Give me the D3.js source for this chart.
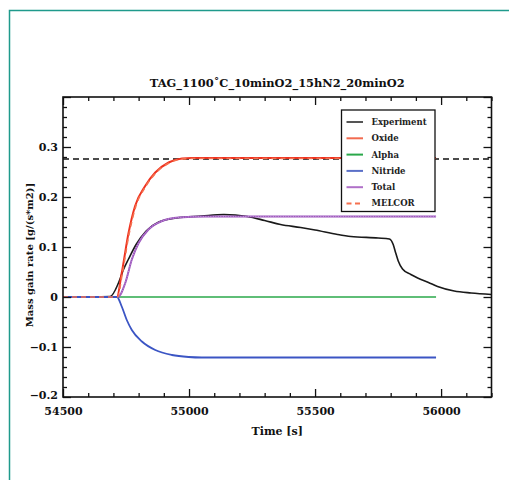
<!DOCTYPE html>
<html><head><meta charset="utf-8">
<script src="https://cdn.jsdelivr.net/npm/d3@7"></script>
<style>body{margin:0;background:#fff}svg{display:block}</style>
</head><body>
<script>
// ---- data ----
const title = "TAG_1100˚C_10minO2_15hN2_20minO2";
const xTicks = [54500, 55000, 55500, 56000];
const yTicks = [-0.2, -0.1, 0, 0.1, 0.2, 0.3];

const expTime = [54500, 54687, 54720, 54740, 54760, 54790, 54830, 54880, 54950, 55050, 55138, 55231, 55300, 55363, 55443, 55500, 55589, 55642, 55750, 55795, 55810, 55820, 55830, 55847, 55880, 55907, 55950, 55986, 56052, 56119, 56200];
const expVal  = [0, 0.001, 0.028, 0.055, 0.076, 0.105, 0.132, 0.150, 0.158, 0.162, 0.165, 0.161, 0.153, 0.145, 0.139, 0.134, 0.125, 0.121, 0.118, 0.116, 0.105, 0.088, 0.072, 0.056, 0.045, 0.038, 0.029, 0.021, 0.012, 0.008, 0.005];

const oxideTime = [54500, 54714, 54733, 54760, 54786, 54826, 54866, 54919, 54972, 55010, 55980];
const oxideVal  = [0, 0, 0.048, 0.128, 0.182, 0.222, 0.249, 0.269, 0.277, 0.278, 0.278];

const melcorTime = [54500, 54716, 54735, 54762, 54788, 54828, 54868, 54921, 54974, 55012, 55980];
const melcorVal  = [0, 0, 0.046, 0.126, 0.180, 0.221, 0.248, 0.268, 0.276, 0.277, 0.277];

const alphaTime = [54500, 55980];
const alphaVal  = [0, 0];

const nitrideTime = [54500, 54714, 54733, 54753, 54773, 54813, 54866, 54932, 54998, 55050, 55980];
const nitrideVal  = [0, 0, -0.019, -0.046, -0.066, -0.089, -0.106, -0.116, -0.120, -0.121, -0.121];

const totalTime = [54500, 54718, 54747, 54773, 54800, 54839, 54893, 54959, 55065, 55980];
const totalVal  = [0, 0, 0.028, 0.075, 0.108, 0.135, 0.152, 0.159, 0.161, 0.161];

const refTime = [54500, 56200];
const refVal  = [0.276, 0.276];

const legendNames = ["Experiment", "Oxide", "Alpha", "Nitride", "Total", "MELCOR"];

// ---- layout ----
const W = 509, H = 480;
const L = 63, R = 491.5, T = 97, B = 397;
const svg = d3.select("body").append("svg").attr("width", W).attr("height", H);

// teal frame
svg.append("path").attr("d", `M9.5,${H} L9.5,10.5 L${W},10.5`)
  .attr("fill", "none").attr("stroke", "#1f9a8c").attr("stroke-width", 1.5);

const x = d3.scaleLinear().domain([54500, 56200]).range([L, R]);
const y = d3.scaleLinear().domain([-0.2, 0.4]).range([B, T]);

const font = "'DejaVu Serif', serif";

svg.append("defs").append("clipPath").attr("id", "clip")
  .append("rect").attr("x", L).attr("y", T).attr("width", R - L).attr("height", B - T);

const line = d3.line().x(d => x(d[0])).y(d => y(d[1])).curve(d3.curveMonotoneX);
const zip = (a, b) => a.map((t, i) => [t, b[i]]);
const g = svg.append("g").attr("clip-path", "url(#clip)");

function draw(ts, vs, color, width, dash) {
  const p = g.append("path").datum(zip(ts, vs)).attr("d", line)
    .attr("fill", "none").attr("stroke", color).attr("stroke-width", width)
    .attr("stroke-linejoin", "round");
  if (dash) p.attr("stroke-dasharray", dash);
  return p;
}

draw(refTime, refVal, "#111", 1.4, "6,4");
draw(alphaTime, alphaVal, "#2aa84a", 1.6);
draw(expTime, expVal, "#1a1a1a", 1.6);
draw(oxideTime, oxideVal, "#ee3320", 2);
draw(totalTime, totalVal, "#9b55bd", 2);
draw(totalTime, totalVal, "#c79ad8", 1, "1,1.5");
draw(nitrideTime, nitrideVal, "#3b55c4", 1.8);
draw(melcorTime, melcorVal, "#f5704f", 1.6, "5,4");

// axes (ticks inward, mirrored)
function minor(a, b, step) { const r = []; for (let v = a; v <= b + 1e-9; v += step) r.push(+v.toFixed(6)); return r; }
const xMinor = minor(54500, 56200, 100).filter(v => !xTicks.includes(v));
const yMinor = minor(-0.2, 0.4, 0.02).filter(v => !yTicks.some(t => Math.abs(t - v) < 1e-6) && Math.abs(v - 0.4) > 1e-6);

function ax(axisGen, tr, major, minr, fmt, showLabels) {
  const gM = svg.append("g").attr("transform", tr)
    .call(axisGen.tickValues(major).tickSizeInner(-8).tickSizeOuter(0).tickFormat(showLabels ? fmt : ""));
  const gm = svg.append("g").attr("transform", tr)
    .call(axisGen.tickValues(minr).tickSizeInner(-4).tickSizeOuter(0).tickFormat(""));
  [gM, gm].forEach(s => { s.select(".domain").remove(); s.selectAll("line").attr("stroke", "#111").attr("stroke-width", 1.3); });
  gM.selectAll("text").attr("font-family", font).attr("font-weight", "bold").attr("font-size", 11).attr("fill", "#111");
  return gM;
}
const xMajorAll = [54500, 55000, 55500, 56000];
const yMajorAll = [-0.2, -0.1, 0, 0.1, 0.2, 0.3, 0.4];
const bx = ax(d3.axisBottom(x), `translate(0,${B})`, xMajorAll, xMinor, d => d, true);
bx.selectAll("text").attr("dy", "0").attr("y", 18);
ax(d3.axisTop(x), `translate(0,${T})`, xMajorAll, xMinor, d => d, false);
const ly = ax(d3.axisLeft(y), `translate(${L},0)`, yMajorAll, yMinor, d => d === 0.4 ? "" : (d === 0 ? "0" : d3.format(".1f")(d)), true);
ly.selectAll("text").attr("x", -5);
ly.selectAll(".tick").filter(d => d === -0.2).select("text").attr("dy", "0.1em");
ax(d3.axisRight(y), `translate(${R},0)`, yMajorAll, yMinor, d => d, false);

svg.append("rect").attr("x", L).attr("y", T).attr("width", R - L).attr("height", B - T)
  .attr("fill", "none").attr("stroke", "#111").attr("stroke-width", 1.6);

// titles
svg.append("text").attr("x", (L + R) / 2).attr("y", 87).attr("text-anchor", "middle")
  .attr("font-family", font).attr("font-weight", "bold").attr("font-size", 11.4).attr("fill", "#111").text(title);
svg.append("text").attr("x", (L + R) / 2).attr("y", 435).attr("text-anchor", "middle")
  .attr("font-family", font).attr("font-weight", "bold").attr("font-size", 11).attr("fill", "#111").text("Time [s]");
svg.append("text").attr("transform", `translate(33,255) rotate(-90)`).attr("text-anchor", "middle")
  .attr("font-family", font).attr("font-weight", "bold").attr("font-size", 10).attr("fill", "#111")
  .text("Mass gain rate [g/(s*m2)]");

// legend
const lg = svg.append("g");
lg.append("rect").attr("x", 341.5).attr("y", 110).attr("width", 93.5).attr("height", 101.5)
  .attr("fill", "#fff").attr("stroke", "#111").attr("stroke-width", 1.3);
const lColors = ["#555", "#f26b50", "#2aa84a", "#5b70c8", "#b070c8", "#f5704f"];
legendNames.forEach((n, i) => {
  const yy = 122 + i * 16.3;
  const l = lg.append("line").attr("x1", 346.5).attr("x2", 363).attr("y1", yy).attr("y2", yy)
    .attr("stroke", lColors[i]).attr("stroke-width", 2);
  if (n === "MELCOR") l.attr("stroke-dasharray", "5,3.5");
  lg.append("text").attr("x", 371.5).attr("y", yy).attr("dy", "0.35em")
    .attr("font-family", font).attr("font-weight", "bold").attr("font-size", 8.5).attr("fill", "#222").text(n);
});
</script>
</body></html>
